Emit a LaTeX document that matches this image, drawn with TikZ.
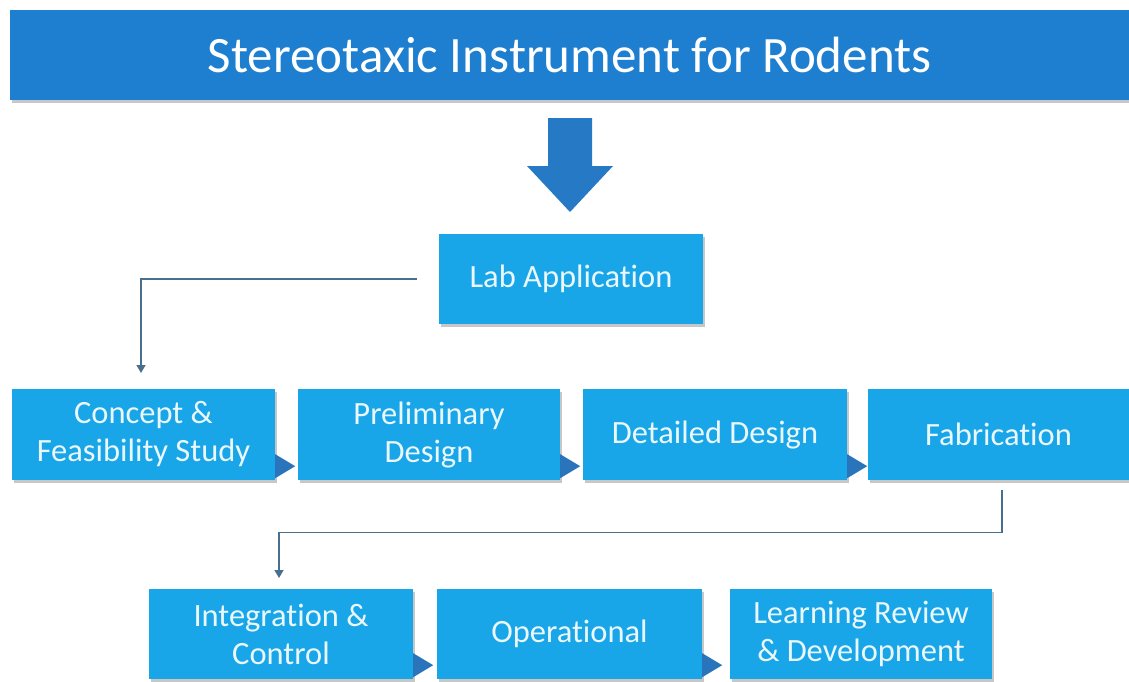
\documentclass[tikz,border=0pt]{standalone}
\usepackage{fontspec}
\setmainfont{Carlito}[Ligatures=NoCommon]
\usetikzlibrary{arrows.meta,shadows,calc}
\definecolor{titleblue}{RGB}{30,127,208}
\definecolor{arrowblue}{RGB}{38,122,197}
\definecolor{boxblue}{RGB}{24,166,232}
\definecolor{triblue}{RGB}{42,116,188}
\definecolor{connblue}{RGB}{72,112,142}
\definecolor{boxtext}{RGB}{234,247,252}
\tikzset{
  x=1pt, y=-1pt,
  shade/.style={drop shadow={shadow xshift=2pt, shadow yshift=-3pt, fill=black, opacity=0.22}},
  stagebox/.style={rectangle, fill=boxblue, text=boxtext, inner sep=0pt, align=center,
    minimum height=91pt, font=\fontsize{32.5}{38}\selectfont, shade},
  pointer/.style={fill=triblue},
  conn/.style={draw=connblue, line width=1.4pt, -{Triangle[width=9pt,length=8pt]}},
}
\begin{document}
\begin{tikzpicture}
\useasboundingbox (0,0) rectangle (1129,681);
% title bar
\node[rectangle, fill=titleblue, text=white, minimum width=1119pt, minimum height=90pt, inner sep=0pt,
  font=\fontsize{51}{60}\selectfont, shade, anchor=north west] (title) at (10,10) {Stereotaxic Instrument for Rodents};
% big arrow
\fill[arrowblue] (548,118) -- (592,118) -- (592,166) -- (613,166) -- (570,212) -- (527,166) -- (548,166) -- cycle;
% boxes
\node[stagebox, minimum width=264pt, minimum height=90pt] (lab) at (571,279) {Lab Application};
\node[stagebox, minimum width=263pt] (b1) at (143.5,434.5) {Concept \&\\Feasibility Study};
\node[stagebox, minimum width=262pt] (b2) at (429,434.5) {Preliminary\\Design};
\node[stagebox, minimum width=264pt] (b3) at (715,434.5) {Detailed Design};
\node[stagebox, minimum width=261pt] (b4) at (998.5,434.5) {Fabrication};
\node[stagebox, minimum width=264pt, minimum height=90pt] (b5) at (281,634) {Integration \&\\Control};
\node[stagebox, minimum width=265pt, minimum height=90pt] (b6) at (569.5,634) {Operational};
\node[stagebox, minimum width=262pt, minimum height=90pt] (b7) at (861,634) {Learning Review\\\& Development};
% pointers
\foreach \b in {b1,b2,b3,b5,b6}{
  \fill[pointer] ($(\b.south east)+(0,-26)$) -- ($(\b.south east)+(20,-14)$) -- ($(\b.south east)+(0,-2)$) -- cycle;
}
% connectors
\coordinate (c1) at (141,373);
\coordinate (c2) at (279,578);
\draw[conn] ([xshift=-22pt]lab.west) -| (c1);
\draw[conn] ([xshift=3.5pt,yshift=-10pt]b4.south) -- ([xshift=3.5pt,yshift=-52pt]b4.south) -| (c2);
\end{tikzpicture}
\end{document}
